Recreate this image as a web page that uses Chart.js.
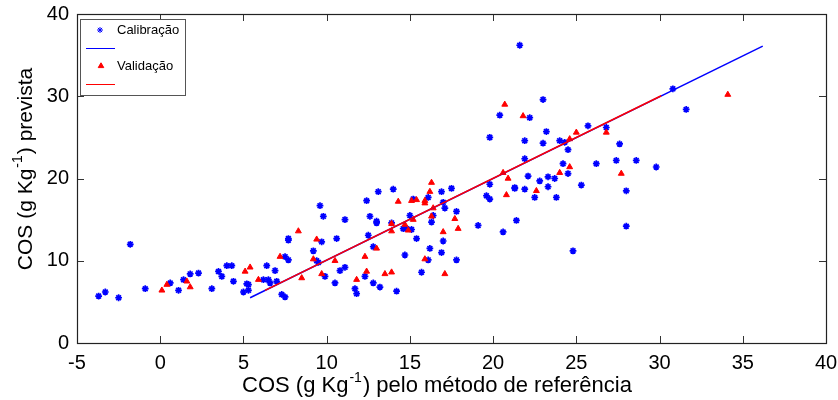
<!DOCTYPE html>
<html><head><meta charset="utf-8">
<script src="https://cdn.jsdelivr.net/npm/chart.js@4/dist/chart.umd.min.js"></script>
<style>html,body{margin:0;padding:0;background:#fff}#wrap{width:838px;height:400px;position:relative}</style>
</head><body><div id="wrap"><canvas id="c"></canvas></div>
<script>
// Calibration (blue asterisks)
const calibX = [-3.7,-3.3,-2.5,-1.8,-0.9,0.6,1.1,1.4,1.8,2.3,3.1,3.5,3.7,4.0,4.3,4.4,5.0,5.2,5.3,5.3,6.4,6.9,6.2,6.5,6.6,7.0,7.3,7.5,7.7,7.7,7.7,7.5,9.6,9.8,9.2,9.4,9.5,9.7,9.9,10.5,10.6,10.8,11.1,11.1,11.7,11.8,12.3,12.4,12.5,12.6,12.8,12.8,13.0,13.0,13.1,13.2,13.9,14.0,14.2,14.6,14.8,15.1,14.7,15.0,15.2,15.4,15.7,16.2,16.3,16.4,16.1,16.9,
  23.0,20.4,22.2,19.8,21.9,23.2,23.0,24.0,24.3,24.5,25.7,21.9,24.2,26.2,22.1,22.8,23.3,23.7,24.5,25.3,23.3,23.8,22.5,21.3,21.3,21.9,19.8,19.6,19.8,21.4,20.6,19.1,24.8,17.5,16.9,17.0,17.1,17.8,17.0,16.1,17.8,
  21.6,26.8,27.6,27.4,28.6,29.8,30.8,31.6,28.0,28.0];
const calibY = [5.7,6.2,5.5,12.0,6.6,7.3,6.4,7.7,8.4,8.5,6.6,8.7,8.1,9.4,9.4,7.5,6.2,7.2,7.1,6.4,9.4,8.8,7.7,7.7,7.3,7.5,5.9,5.6,12.7,12.5,10.1,10.5,16.7,15.4,11.2,10.0,9.8,12.3,8.1,7.3,12.7,8.8,9.2,15.0,6.6,6.0,8.1,17.3,13.1,15.4,7.3,11.7,14.6,14.8,18.4,6.8,14.6,18.7,6.3,13.9,13.9,13.8,10.7,15.5,17.5,12.7,8.6,11.5,14.7,15.5,17.7,11.0,
  29.6,27.7,27.4,25.0,24.6,25.7,24.3,24.6,24.4,23.5,26.4,22.4,21.8,21.8,20.3,19.7,20.2,20.0,20.6,19.2,19.0,17.7,17.7,18.9,18.8,18.7,19.3,17.9,17.5,14.9,13.5,14.3,11.2,18.8,18.4,17.1,16.4,16.0,12.4,10.1,10.1,
  36.2,26.2,24.2,22.2,22.2,21.4,30.9,28.4,18.5,14.2];
// Validation (red triangles)
const validX = [0.1,0.4,1.6,1.8,5.1,5.4,5.9,7.2,8.3,8.5,9.2,9.4,9.7,10.5,11.8,12.3,12.4,13.0,13.5,13.9,13.9,13.9,14.3,14.7,14.9,15.1,15.4,15.2,15.9,15.9,16.2,16.3,16.3,16.4,15.9,20.7,21.8,25.0,24.6,24.6,24.0,22.6,20.6,20.9,20.8,17.7,17.9,17.0,17.1,26.8,27.7,34.1];
const validY = [6.4,7.1,7.5,6.8,8.7,9.2,7.7,10.5,13.6,7.9,10.2,12.6,8.4,10.0,7.7,10.5,8.7,11.5,8.4,8.6,14.5,13.6,17.2,14.4,13.7,17.3,17.4,15.0,17.0,17.3,18.4,19.5,15.4,16.4,10.2,29.0,27.6,25.6,24.8,21.4,20.7,18.5,20.7,20.0,18.0,15.1,13.9,13.5,8.4,25.6,20.6,30.2];
// Fitted lines (end points)
const calibLineX = [5.4, 36.2];
const calibLineY = [5.5, 36.1];
const validLineX = [6.3, 30.1];
const validLineY = [6.4, 30.05];
// Axis ranges / labels
const xRange = [-5, 40], xStep = 5;
const yRange = [0, 40], yStep = 10;
const xTitleParts = ['COS (g Kg', '-1', ') pelo método de referência'];
const yTitleParts = ['COS (g Kg', '-1', ') prevista'];
const legendLabels = ['Calibração', 'Validação'];

const pts = (xs, ys) => xs.map((x, i) => ({x, y: ys[i]}));
const BLUE = '#0000ff', RED = '#ff0000';
const FONT = '"Liberation Sans", Arial, Helvetica, sans-serif';

function richWidth(ctx, parts, size, sup) {
  let w = 0;
  parts.forEach((p, i) => {
    ctx.font = (i === 1 ? sup : size) + 'px ' + FONT;
    w += ctx.measureText(p).width + (i === 1 ? 2 : 0);
  });
  return w;
}
function drawRich(ctx, parts, x0, y0, size, sup, raise) {
  let x = x0;
  ctx.textBaseline = 'alphabetic';
  ctx.textAlign = 'left';
  parts.forEach((p, i) => {
    const isSup = i === 1;
    ctx.font = (isSup ? sup : size) + 'px ' + FONT;
    ctx.fillText(p, x + (isSup ? 1 : 0), isSup ? y0 - raise : y0);
    x += ctx.measureText(p).width + (isSup ? 2 : 0);
  });
}

const framePlugin = {
  id: 'frame',
  afterDraw(chart) {
    const {ctx, chartArea: a, scales: {x, y}} = chart;
    ctx.save();
    ctx.strokeStyle = '#333';
    ctx.lineWidth = 1;
    const tl = 7;
    ctx.beginPath();
    x.ticks.forEach(t => {
      const px = Math.round(x.getPixelForValue(t.value)) + 0.5;
      ctx.moveTo(px, a.bottom); ctx.lineTo(px, a.bottom - tl);
      ctx.moveTo(px, a.top); ctx.lineTo(px, a.top + tl);
    });
    y.ticks.forEach(t => {
      const py = Math.round(y.getPixelForValue(t.value)) + 0.5;
      ctx.moveTo(a.left, py); ctx.lineTo(a.left + tl, py);
      ctx.moveTo(a.right, py); ctx.lineTo(a.right - tl, py);
    });
    ctx.stroke();
    ctx.lineWidth = 1.2;
    ctx.strokeStyle = '#222';
    ctx.strokeRect(Math.round(a.left) + 0.5, Math.round(a.top) + 0.5, Math.round(a.right - a.left), Math.round(a.bottom - a.top));

    // axis titles
    ctx.fillStyle = '#000';
    const wx = richWidth(ctx, xTitleParts, 22, 14);
    drawRich(ctx, xTitleParts, 437 - wx / 2, 392, 22, 14, 10);
    const wy = richWidth(ctx, yTitleParts, 21, 14);
    ctx.save();
    ctx.translate(32, 169);
    ctx.rotate(-Math.PI / 2);
    drawRich(ctx, yTitleParts, -wy / 2, 0, 21, 14, 10);
    ctx.restore();

    // legend box
    const lx = a.left + 3, ly = a.top + 5, lw = 105, lh = 76;
    ctx.fillStyle = '#fff';
    ctx.fillRect(lx, ly, lw, lh);
    ctx.strokeStyle = '#555';
    ctx.lineWidth = 1;
    ctx.strokeRect(lx + 0.5, ly + 0.5, lw, lh);
    ctx.font = '13px ' + FONT;
    ctx.textBaseline = 'middle';
    ctx.textAlign = 'left';
    ctx.strokeStyle = BLUE; ctx.fillStyle = BLUE;
    Chart.helpers.drawPoint(ctx, {pointStyle: 'star', radius: 3, borderWidth: 1.5}, lx + 20, ly + 11);
    ctx.fillStyle = '#000';
    ctx.fillText(legendLabels[0], lx + 37, ly + 11);
    ctx.strokeStyle = BLUE; ctx.lineWidth = 1;
    ctx.beginPath(); ctx.moveTo(lx + 6, ly + 29.5); ctx.lineTo(lx + 35, ly + 29.5); ctx.stroke();
    ctx.fillStyle = RED; ctx.strokeStyle = RED;
    Chart.helpers.drawPoint(ctx, {pointStyle: 'triangle', radius: 3.2, borderWidth: 1}, lx + 21, ly + 47);
    ctx.fillStyle = '#000';
    ctx.fillText(legendLabels[1], lx + 37, ly + 47);
    ctx.strokeStyle = RED; ctx.lineWidth = 1;
    ctx.beginPath(); ctx.moveTo(lx + 6, ly + 65.5); ctx.lineTo(lx + 35, ly + 65.5); ctx.stroke();
    ctx.restore();
  }
};

new Chart(document.getElementById('c'), {
  type: 'scatter',
  data: {
    datasets: [
      {label: 'Validação linha', type: 'line', data: pts(validLineX, validLineY), borderColor: RED, borderWidth: 1.6, pointRadius: 0, fill: false, order: 0},
      {label: 'Calibração linha', type: 'line', data: pts(calibLineX, calibLineY), borderColor: BLUE, borderWidth: 1.5, pointRadius: 0, fill: false, order: 1},
      {label: legendLabels[1], data: pts(validX, validY), pointStyle: 'triangle', pointRadius: 3.4, backgroundColor: RED, borderColor: RED, borderWidth: 1, order: 2},
      {label: legendLabels[0], data: pts(calibX, calibY), pointStyle: 'star', pointRadius: 3.4, borderColor: BLUE, backgroundColor: BLUE, borderWidth: 1.7, order: 3}
    ]
  },
  options: {
    responsive: true, maintainAspectRatio: false, animation: false, devicePixelRatio: 1,
    layout: {padding: {top: 14, right: 12, left: 0, bottom: 0}},
    plugins: {legend: {display: false}, tooltip: {enabled: false}},
    scales: {
      x: {
        type: 'linear', min: xRange[0], max: xRange[1],
        ticks: {stepSize: xStep, color: '#000', font: {family: FONT, size: 20}, padding: 8, maxRotation: 0},
        grid: {display: false, drawTicks: false},
        border: {display: false},
        title: {display: false},
        afterFit: s => { s.height = 57; s.paddingLeft = 0; s.paddingRight = 0; }
      },
      y: {
        type: 'linear', min: yRange[0], max: yRange[1],
        ticks: {stepSize: yStep, color: '#000', font: {family: FONT, size: 20}, padding: 8},
        grid: {display: false, drawTicks: false},
        border: {display: false},
        title: {display: false},
        afterFit: s => { s.width = 77; s.paddingTop = 0; s.paddingBottom = 0; }
      }
    }
  },
  plugins: [framePlugin]
});
</script>
</body></html>
